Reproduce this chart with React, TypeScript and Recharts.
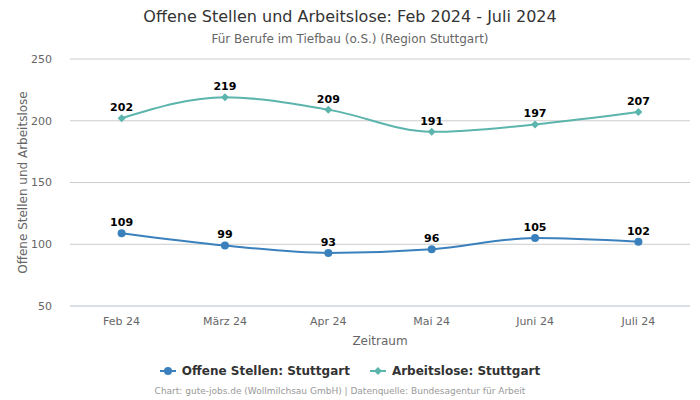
import { CartesianGrid, LabelList, Line, LineChart, XAxis, YAxis } from "recharts";

const months = ["Feb 24", "März 24", "Apr 24", "Mai 24", "Juni 24", "Juli 24"];
const offeneStellen = [109, 99, 93, 96, 105, 102];
const arbeitslose = [202, 219, 209, 191, 197, 207];
const yTicks = [50, 100, 150, 200, 250];

const FONT = "'DejaVu Sans', sans-serif";
const OS_COLOR = "#3a80bd";
const AL_COLOR = "#5bb5ad";
const MUTED = "#666666";

const data = months.map((month, i) => ({
  month,
  offene: offeneStellen[i],
  arbeitslose: arbeitslose[i],
}));

function Diamond(props: { cx?: number; cy?: number }) {
  const { cx, cy } = props;
  if (cx == null || cy == null) return null;
  const r = 4;
  return (
    <path
      d={`M${cx},${cy - r}L${cx + r},${cy}L${cx},${cy + r}L${cx - r},${cy}Z`}
      fill={AL_COLOR}
    />
  );
}

function LegendItem({ color, label, diamond }: { color: string; label: string; diamond?: boolean }) {
  return (
    <span style={{ display: "flex", alignItems: "center", gap: 6 }}>
      <svg width={16} height={10}>
        <line x1={0} y1={5} x2={16} y2={5} stroke={color} strokeWidth={2} />
        {diamond ? (
          <path d="M8,1L12,5L8,9L4,5Z" fill={color} />
        ) : (
          <circle cx={8} cy={5} r={4} fill={color} />
        )}
      </svg>
      {label}
    </span>
  );
}

export default function App() {
  return (
    <div style={{ position: "absolute", left: 0, top: 0, width: 700, height: 400, fontFamily: FONT, background: "#fff" }}>
      <div style={{ position: "absolute", top: 7, width: 700, textAlign: "center", fontSize: 16, color: "#333" }}>
        Offene Stellen und Arbeitslose: Feb 2024 - Juli 2024
      </div>
      <div style={{ position: "absolute", top: 32, width: 700, textAlign: "center", fontSize: 12, color: MUTED }}>
        Für Berufe im Tiefbau (o.S.) (Region Stuttgart)
      </div>
      <LineChart width={700} height={400} data={data} margin={{ top: 59, right: 10, bottom: 64, left: 0 }}>
        <CartesianGrid vertical={false} stroke="#cccccc" />
        <XAxis
          dataKey="month"
          padding={{ left: 51.6, right: 51.6 }}
          height={30}
          tickLine={false}
          axisLine={{ stroke: "#ccd6eb" }}
          tick={{ fill: MUTED, fontSize: 11, fontFamily: FONT }}
          tickMargin={5}
          label={{ value: "Zeitraum", position: "insideBottom", offset: -9, fill: MUTED, fontSize: 12, fontFamily: FONT }}
        />
        <YAxis
          domain={[50, 250]}
          ticks={yTicks}
          width={70}
          axisLine={false}
          tickLine={false}
          tick={{ fill: MUTED, fontSize: 11, fontFamily: FONT }}
          tickMargin={12}
          label={{
            value: "Offene Stellen und Arbeitslose",
            angle: -90,
            position: "insideLeft",
            offset: 23,
            style: { textAnchor: "middle", fill: MUTED, fontSize: 12, fontFamily: FONT },
          }}
        />
        <Line
          type="monotone"
          dataKey="offene"
          stroke={OS_COLOR}
          strokeWidth={2}
          dot={{ r: 4, fill: OS_COLOR, stroke: OS_COLOR, strokeWidth: 0 }}
          isAnimationActive={false}
        >
          <LabelList dataKey="offene" position="top" offset={7} fill="#000" fontSize={11} fontWeight="bold" fontFamily={FONT} />
        </Line>
        <Line
          type="monotone"
          dataKey="arbeitslose"
          stroke={AL_COLOR}
          strokeWidth={2}
          dot={<Diamond />}
          isAnimationActive={false}
        >
          <LabelList dataKey="arbeitslose" position="top" offset={7} fill="#000" fontSize={11} fontWeight="bold" fontFamily={FONT} />
        </Line>
      </LineChart>
      <div
        style={{
          position: "absolute",
          top: 364,
          width: 700,
          display: "flex",
          justifyContent: "center",
          gap: 20,
          fontSize: 12,
          fontWeight: "bold",
          color: "#333",
        }}
      >
        <LegendItem color={OS_COLOR} label="Offene Stellen: Stuttgart" />
        <LegendItem color={AL_COLOR} label="Arbeitslose: Stuttgart" diamond />
      </div>
      <div style={{ position: "absolute", top: 386, left: -10, width: 700, textAlign: "center", fontSize: 9, color: "#999" }}>
        Chart: gute-jobs.de (Wollmilchsau GmbH) | Datenquelle: Bundesagentur für Arbeit
      </div>
    </div>
  );
}
